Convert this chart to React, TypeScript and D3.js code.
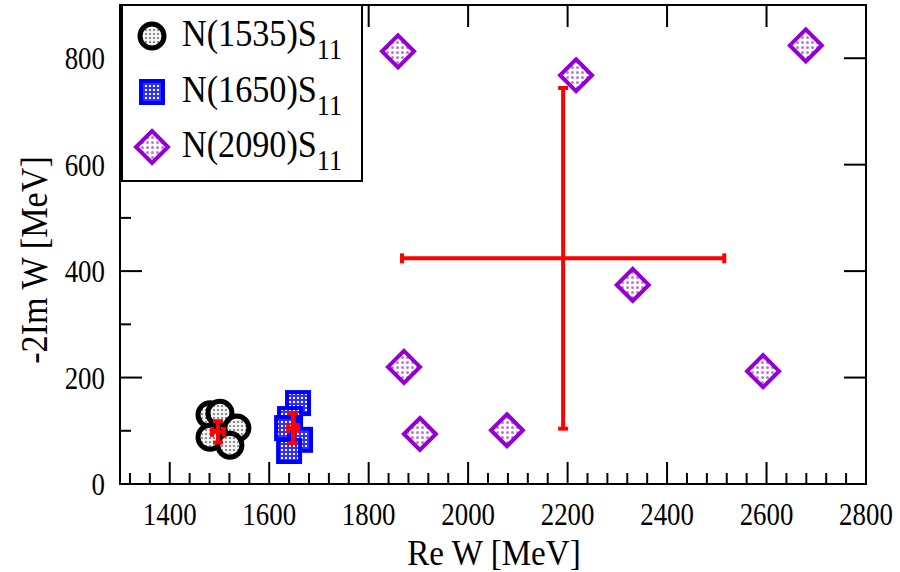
import React from 'react';
import * as d3 from 'd3';

// N(1535)S11 pole positions
const n1535Re = [1481, 1501, 1535, 1481, 1521];
const n1535Im = [130, 133, 105, 88, 73];
// N(1650)S11
const n1650Re = [1658, 1642, 1636, 1662, 1640];
const n1650Im = [152, 122, 105, 83, 62];
// N(2090)S11
const n2090Re = [1859, 2217, 2679, 2331, 1871, 1903, 2078, 2593];
const n2090Im = [813, 768, 824, 374, 220, 94, 101, 212];
// averaged values with errors
const avgRe = [1497, 1648, 2191];
const avgReErr = [12, 10, 324];
const avgIm = [98, 105, 424];
const avgImErr = [20, 28, 320];

const legendLabels = ['N(1535)S', 'N(1650)S', 'N(2090)S'];
const xMajor = [1400, 1600, 1800, 2000, 2200, 2400, 2600, 2800];
const yMajor = [0, 200, 400, 600, 800];

const W = 900, H = 572;
const font = '"Liberation Serif", "Times New Roman", serif';

export default function App() {
  const x = d3.scaleLinear().domain([1300, 2800]).range([120, 866]);
  const y = d3.scaleLinear().domain([0, 900]).range([484, 5]);
  const [x0, x1] = x.range();
  const [y0, y1] = y.range();
  const xMinor = d3.range(1320, 2800, 40).filter(v => v % 200 !== 0);
  const yMinor = d3.range(100, 900, 200);
  const majLen = 22, minLen = 11;

  const circleR = 14.5, sq = 22, dia = 18;
  const diamond = (cx: number, cy: number, r: number) =>
    `M${cx},${cy - r}L${cx + r},${cy}L${cx},${cy + r}L${cx - r},${cy}Z`;

  const legendY = [36, 92, 147];

  return (
    <svg width={W} height={H} style={{ position: 'absolute', left: 0, top: 0, background: '#fff' }}>
      <defs>
        <pattern id="patGray" width="4" height="4" patternUnits="userSpaceOnUse">
          <rect width="4" height="4" fill="#f4f4f4" />
          <circle cx="2" cy="2" r="1.1" fill="#777" />
        </pattern>
        <pattern id="patBlue" width="4" height="4" patternUnits="userSpaceOnUse">
          <rect width="4" height="4" fill="#3030ff" />
          <rect x="1" y="1" width="2" height="2" fill="#fff" />
        </pattern>
        <pattern id="patViolet" width="5" height="5" patternUnits="userSpaceOnUse">
          <rect width="5" height="5" fill="#fff" />
          <circle cx="2.5" cy="2.5" r="1.5" fill="#bb77e0" />
        </pattern>
      </defs>

      {/* axes frame + ticks */}
      <g stroke="#000" strokeWidth={2}>
        {xMajor.map(v => (
          <g key={'xm' + v}>
            <line x1={x(v)} x2={x(v)} y1={y0} y2={y0 - majLen} />
            <line x1={x(v)} x2={x(v)} y1={y1} y2={y1 + majLen} />
          </g>
        ))}
        {xMinor.map(v => (
          <line key={'xn' + v} x1={x(v)} x2={x(v)} y1={y0} y2={y0 - minLen} />
        ))}
        {yMajor.map(v => (
          <g key={'ym' + v}>
            <line x1={x0} x2={x0 + majLen} y1={y(v)} y2={y(v)} />
            <line x1={x1} x2={x1 - majLen} y1={y(v)} y2={y(v)} />
          </g>
        ))}
        {yMinor.map(v => (
          <line key={'yn' + v} x1={x0} x2={x0 + minLen} y1={y(v)} y2={y(v)} />
        ))}
        <rect x={x0} y={y1} width={x1 - x0} height={y0 - y1} fill="none" />
      </g>

      {/* tick labels */}
      <g fontFamily={font} fontSize={32} fill="#000">
        {xMajor.map(v => (
          <text key={'xl' + v} transform={`translate(${x(v)},525) scale(0.84,1)`} textAnchor="middle">{v}</text>
        ))}
        {yMajor.map(v => (
          <text key={'yl' + v} transform={`translate(105,${y(v) + 11}) scale(0.84,1)`} textAnchor="end">{v}</text>
        ))}
      </g>

      {/* axis titles */}
      <text transform="translate(494,565) scale(0.92,1)" textAnchor="middle" fontFamily={font} fontSize={36}>Re W [MeV]</text>
      <text transform="translate(47,260) rotate(-90) scale(0.9,1)" textAnchor="middle" fontFamily={font} fontSize={38}>-2Im W [MeV]</text>

      {/* data */}
      <g>
        {n1535Re.map((v, i) => (
          <circle key={'c' + i} cx={x(v)} cy={y(n1535Im[i])} r={circleR - 2.5}
            fill="url(#patGray)" stroke="#000" strokeWidth={5} />
        ))}
        {n1650Re.map((v, i) => (
          <rect key={'s' + i} x={x(v) - sq / 2} y={y(n1650Im[i]) - sq / 2} width={sq} height={sq}
            fill="url(#patBlue)" stroke="#0000ff" strokeWidth={4} />
        ))}
        {n2090Re.map((v, i) => (
          <path key={'d' + i} d={diamond(x(v), y(n2090Im[i]), dia - 2)}
            fill="url(#patViolet)" stroke="#9400d3" strokeWidth={4} />
        ))}
      </g>

      {/* error bars */}
      <g stroke="#ff0000" strokeWidth={4}>
        {avgRe.map((v, i) => {
          const cx = x(v), cy = y(avgIm[i]);
          const xl = x(v - avgReErr[i]), xr = x(v + avgReErr[i]);
          const yt = y(avgIm[i] + avgImErr[i]), yb = y(avgIm[i] - avgImErr[i]);
          const cap = 5;
          return (
            <g key={'e' + i}>
              <line x1={xl} x2={xr} y1={cy} y2={cy} />
              <line x1={cx} x2={cx} y1={yt} y2={yb} />
              <line x1={xl} x2={xl} y1={cy - cap} y2={cy + cap} />
              <line x1={xr} x2={xr} y1={cy - cap} y2={cy + cap} />
              <line x1={cx - cap} x2={cx + cap} y1={yt} y2={yt} />
              <line x1={cx - cap} x2={cx + cap} y1={yb} y2={yb} />
            </g>
          );
        })}
      </g>

      {/* legend */}
      <rect x={122} y={5} width={240} height={176} fill="#fff" stroke="#000" strokeWidth={2} />
      <circle cx={152} cy={legendY[0]} r={circleR - 2.5} fill="url(#patGray)" stroke="#000" strokeWidth={5} />
      <rect x={152 - sq / 2} y={legendY[1] - sq / 2} width={sq} height={sq} fill="url(#patBlue)" stroke="#0000ff" strokeWidth={4} />
      <path d={diamond(152, legendY[2], dia - 2)} fill="url(#patViolet)" stroke="#9400d3" strokeWidth={4} />
      {legendLabels.map((t, i) => (
        <text key={'lg' + i} transform={`translate(182,${legendY[i] + 10}) scale(0.9,1)`} fontFamily={font} fontSize={38}>
          {t}
          <tspan fontSize={29} dy={13}>11</tspan>
        </text>
      ))}
    </svg>
  );
}
